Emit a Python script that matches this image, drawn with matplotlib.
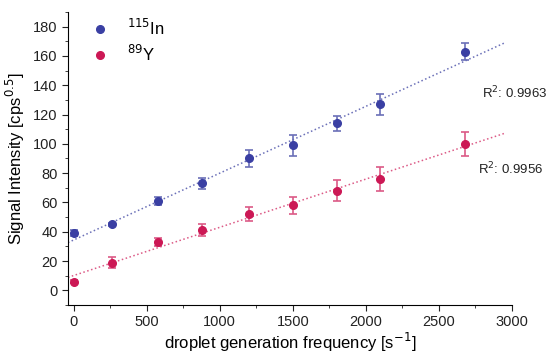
import numpy as np
import matplotlib.pyplot as plt
from matplotlib.ticker import MultipleLocator
from matplotlib.lines import Line2D

plt.rcParams['font.family'] = ['Liberation Sans', 'DejaVu Sans']

# === Data ===
freq = [0, 260, 575, 880, 1200, 1500, 1800, 2100, 2680]
in_mean = [39, 45, 61, 73, 90, 99, 114, 127, 163]
in_err = [2, 1, 2.5, 4, 6, 7, 5, 7, 6]
y_mean = [6, 19, 33, 41, 52, 58, 68, 76, 100]
y_err = [1, 4, 3, 4, 5, 6, 7, 8, 8]

c_in = "#3a3fa3"
c_y = "#cc1855"
c_in_err = "#6b70b8"
c_y_err = "#dc5a86"

fig = plt.figure(figsize=(5.48, 3.53), dpi=100)
ax = fig.add_axes([0.124, 0.136, 0.81, 0.83])

handles = []
for mean, err, col, ecol, lab in [(in_mean, in_err, c_in, c_in_err, r"$^{115}$In"),
                                  (y_mean, y_err, c_y, c_y_err, r"$^{89}$Y")]:
    k, b = np.polyfit(freq, mean, 1)
    xx = np.array([-40, 2950])
    ax.plot(xx, k * xx + b, ":", color=ecol, lw=1.1)
    ax.errorbar(freq, mean, yerr=err, fmt="o", color=col, ecolor=ecol, ms=5.5,
                capsize=3, elinewidth=1.2, capthick=1.2)
    handles.append(Line2D([], [], ls="none", marker="o", ms=5.5, color=col, label=lab))

ax.text(2795, 131, r"R$^2$: 0.9963", fontsize=9.5, color="#222222")
ax.text(2765, 79, r"R$^2$: 0.9956", fontsize=9.5, color="#222222")

ax.set_xlim(-40, 3000)
ax.set_ylim(-10, 190)
ax.xaxis.set_major_locator(MultipleLocator(500))
ax.xaxis.set_minor_locator(MultipleLocator(250))
ax.yaxis.set_major_locator(MultipleLocator(20))
ax.yaxis.set_minor_locator(MultipleLocator(10))
ax.tick_params(which="both", direction="out", labelsize=10.5, colors="#222222")
ax.tick_params(which="major", length=4)
ax.tick_params(which="minor", length=2.5)
ax.spines["top"].set_visible(False)
ax.spines["right"].set_visible(False)

ax.set_xlabel(r"droplet generation frequency [s$^{-1}$]", fontsize=12, labelpad=1)
ax.set_ylabel(r"Signal Intensity [cps$^{0.5}$]", fontsize=12)

ax.legend(handles=handles, loc="upper left", frameon=False, fontsize=12,
          handlelength=1, handletextpad=1.1, labelspacing=0.35,
          bbox_to_anchor=(0.02, 1.03))

fig.savefig("out.png", dpi=100)
